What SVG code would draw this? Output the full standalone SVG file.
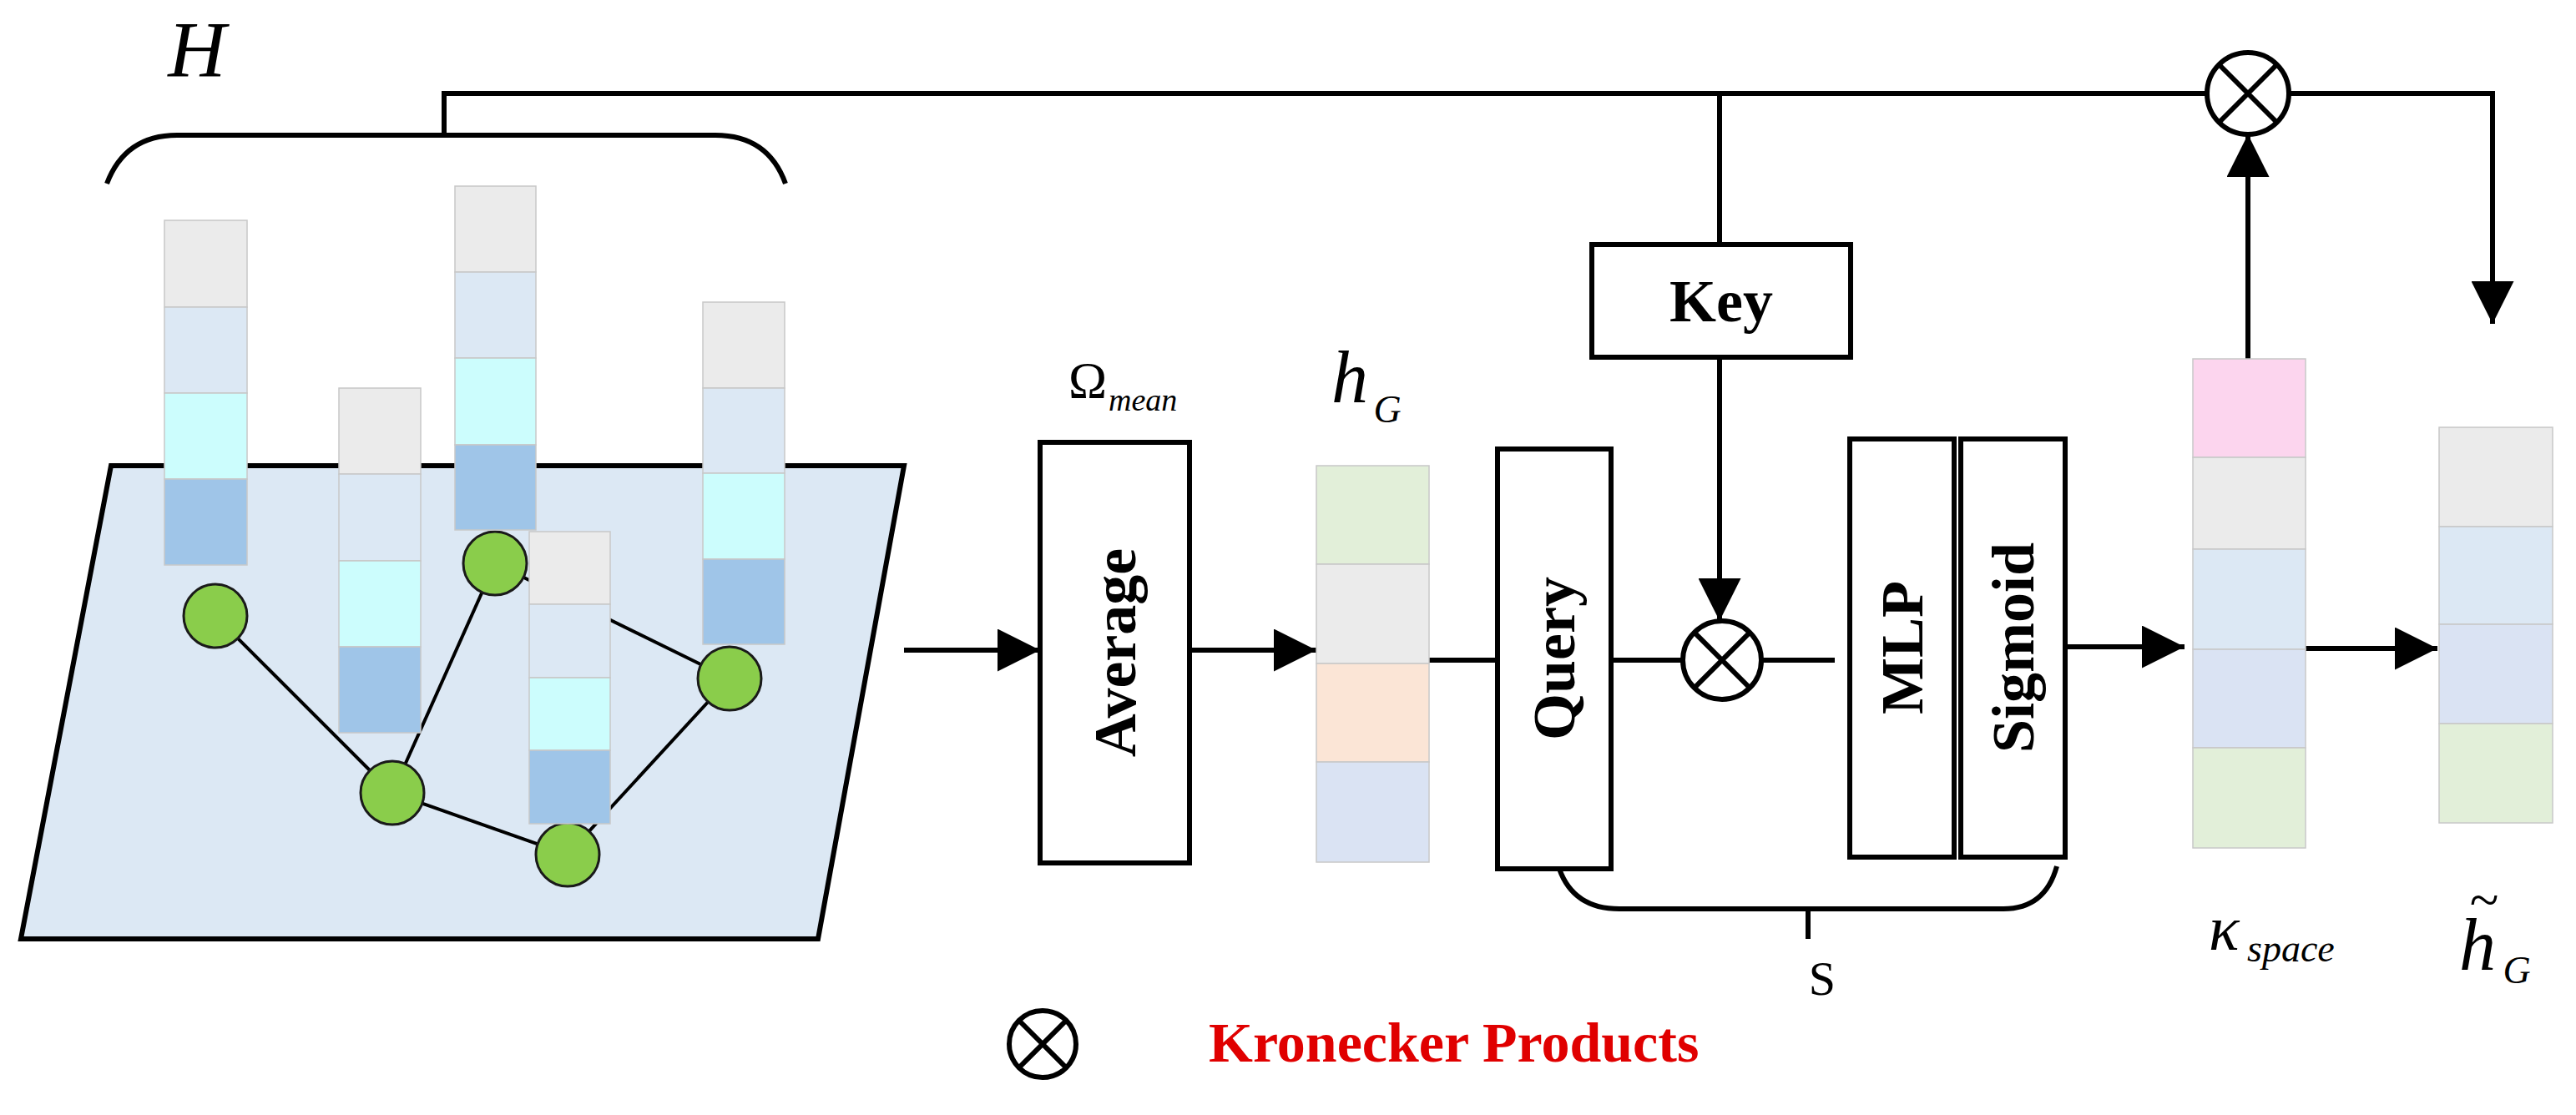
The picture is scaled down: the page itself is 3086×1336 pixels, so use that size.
<svg xmlns="http://www.w3.org/2000/svg" width="3086" height="1336" viewBox="0 0 3086 1336">
<defs>
<style>
.ln{stroke:#000;stroke-width:6;fill:none}
.bx{fill:#fff;stroke:#000;stroke-width:6}
.bt{font-family:"Liberation Serif",serif;font-weight:bold;font-size:72px;text-anchor:middle;dominant-baseline:central}
.it{font-family:"Liberation Serif",serif;font-style:italic}
.c{stroke:#c8c8c8;stroke-width:1.5}
.nd{fill:#8acd4b;stroke:#1a1a1a;stroke-width:3}
.e{stroke:#000;stroke-width:4}
.ox{fill:#fff;stroke:#000;stroke-width:6}
</style>
<marker id="a" viewBox="0 0 10 10" refX="10" refY="5" markerWidth="8.5" markerHeight="8.5" orient="auto"><path d="M0,0 L10,5 L0,10 z" fill="#000"/></marker>
</defs>
<g id="graph">
<polygon points="133,558 1083,558 980,1125 25,1125" fill="#dce8f4" stroke="#000" stroke-width="6"/>
<g class="e"><line x1="258" y1="738" x2="470" y2="950"/><line x1="470" y1="950" x2="593" y2="675"/><line x1="593" y1="675" x2="874" y2="813"/><line x1="470" y1="950" x2="680" y2="1024"/><line x1="680" y1="1024" x2="874" y2="813"/></g>
<circle class="nd" cx="258" cy="738" r="38"/><circle class="nd" cx="470" cy="950" r="38"/><circle class="nd" cx="593" cy="675" r="38"/><circle class="nd" cx="680" cy="1024" r="38"/><circle class="nd" cx="874" cy="813" r="38"/>
<g class="c">
<rect x="197" y="264" width="99" height="104" fill="#ebebeb"/><rect x="197" y="368" width="99" height="103" fill="#dce8f4"/><rect x="197" y="471" width="99" height="103" fill="#ccfdfd"/><rect x="197" y="574" width="99" height="103" fill="#9fc5e8"/>
<rect x="406" y="465" width="98" height="103" fill="#ebebeb"/><rect x="406" y="568" width="98" height="104" fill="#dce8f4"/><rect x="406" y="672" width="98" height="103" fill="#ccfdfd"/><rect x="406" y="775" width="98" height="103" fill="#9fc5e8"/>
<rect x="545" y="223" width="97" height="103" fill="#ebebeb"/><rect x="545" y="326" width="97" height="103" fill="#dce8f4"/><rect x="545" y="429" width="97" height="104" fill="#ccfdfd"/><rect x="545" y="533" width="97" height="102" fill="#9fc5e8"/>
<rect x="842" y="362" width="98" height="103" fill="#ebebeb"/><rect x="842" y="465" width="98" height="102" fill="#dce8f4"/><rect x="842" y="567" width="98" height="103" fill="#ccfdfd"/><rect x="842" y="670" width="98" height="102" fill="#9fc5e8"/>
<rect x="634" y="637" width="97" height="87" fill="#ebebeb"/><rect x="634" y="724" width="97" height="88" fill="#dce8f4"/><rect x="634" y="812" width="97" height="87" fill="#ccfdfd"/><rect x="634" y="899" width="97" height="88" fill="#9fc5e8"/>
</g>
<text class="it" x="236" y="92" font-size="96" text-anchor="middle">H</text>
</g>
<g id="connectors">
<path class="ln" d="M128,220 Q150,162 212,162 L857,162 Q920,162 941,220"/>
<path class="ln" d="M532,162 L532,112 L2644,112"/>
<path class="ln" d="M2742,112 L2986,112 L2986,388" marker-end="url(#a)"/>
<line class="ln" x1="2060" y1="112" x2="2060" y2="293"/>
<line class="ln" x1="2060" y1="428" x2="2060" y2="744" marker-end="url(#a)"/>
<line class="ln" x1="1083" y1="779" x2="1246" y2="779" marker-end="url(#a)"/>
<line class="ln" x1="1425" y1="779" x2="1577" y2="779" marker-end="url(#a)"/>
<line class="ln" x1="1712" y1="791" x2="1794" y2="791"/>
<line class="ln" x1="1930" y1="791" x2="2016" y2="791"/>
<line class="ln" x1="2110" y1="791" x2="2198" y2="791"/>
<line class="ln" x1="2474" y1="775" x2="2617" y2="775" marker-end="url(#a)"/>
<line class="ln" x1="2693" y1="430" x2="2693" y2="161" marker-end="url(#a)"/>
<line class="ln" x1="2762" y1="777" x2="2920" y2="777" marker-end="url(#a)"/>
<path class="ln" d="M1868,1041 Q1885,1089 1940,1089 L2400,1089 Q2450,1089 2464,1038"/>
<line class="ln" x1="2166" y1="1089" x2="2166" y2="1125"/>
</g>
<g id="average"><rect class="bx" x="1246" y="530" width="179" height="504"/><text class="bt" transform="translate(1336,782) rotate(-90)">Average</text>
<text x="1280" y="476" font-family="Liberation Serif,serif" font-size="62">Ω</text><text class="it" x="1328" y="492" font-size="38">mean</text></g>
<g id="hG" class="c"><rect x="1577" y="558" width="135" height="118" fill="#e2efd9"/><rect x="1577" y="676" width="135" height="119" fill="#ebebeb"/><rect x="1577" y="795" width="135" height="118" fill="#fbe5d6"/><rect x="1577" y="913" width="135" height="120" fill="#dae3f3"/></g>
<g id="hG-label"><text class="it" x="1617" y="482" font-size="88" text-anchor="middle">h</text><text class="it" x="1662" y="506" font-size="46" text-anchor="middle">G</text></g>
<g id="query"><rect class="bx" x="1794" y="538" width="136" height="503"/><text class="bt" transform="translate(1862,789) rotate(-90)">Query</text></g>
<g id="key"><rect class="bx" x="1907" y="293" width="310" height="135"/><text class="bt" x="2062" y="361">Key</text></g>
<g id="mult1"><circle class="ox" cx="2063" cy="791" r="47"/><path class="ln" d="M2030,758 L2096,824 M2096,758 L2030,824"/></g>
<g id="mlp"><rect class="bx" x="2216" y="526" width="125" height="501"/><text class="bt" transform="translate(2279,776) rotate(-90)">MLP</text></g>
<g id="sigmoid"><rect class="bx" x="2349" y="526" width="125" height="501"/><text class="bt" transform="translate(2412,776) rotate(-90)">Sigmoid</text></g>
<g id="mult2"><circle class="ox" cx="2693" cy="112" r="49"/><path class="ln" d="M2658,77 L2728,147 M2728,77 L2658,147"/></g>
<g id="kspace" class="c"><rect x="2627" y="430" width="135" height="118" fill="#fcd5ee"/><rect x="2627" y="548" width="135" height="110" fill="#ebebeb"/><rect x="2627" y="658" width="135" height="120" fill="#dce8f4"/><rect x="2627" y="778" width="135" height="118" fill="#dae3f3"/><rect x="2627" y="896" width="135" height="120" fill="#e2efd9"/></g>
<g id="kspace-label"><text class="it" x="2646" y="1138" font-size="76">κ</text><text class="it" x="2692" y="1152" font-size="46">space</text></g>
<g id="htG" class="c"><rect x="2922" y="512" width="136" height="119" fill="#ebebeb"/><rect x="2922" y="631" width="136" height="117" fill="#dce8f4"/><rect x="2922" y="748" width="136" height="119" fill="#dae3f3"/><rect x="2922" y="867" width="136" height="119" fill="#e2efd9"/></g>
<g id="htG-label"><text class="it" x="2968" y="1162" font-size="88" text-anchor="middle">h</text><text x="2976" y="1100" font-family="Liberation Serif,serif" font-size="64" text-anchor="middle">~</text><text class="it" x="3015" y="1178" font-size="46" text-anchor="middle">G</text></g>
<g id="s-label"><text x="2183" y="1192" font-family="Liberation Serif,serif" font-size="58" text-anchor="middle">S</text></g>
<g id="legend"><circle class="ox" cx="1249" cy="1251" r="40"/><path class="ln" d="M1221,1223 L1277,1279 M1277,1223 L1221,1279"/>
<text x="1448" y="1272" font-family="Liberation Serif,serif" font-weight="bold" font-size="68" fill="#e00000">Kronecker Products</text></g>
</svg>
